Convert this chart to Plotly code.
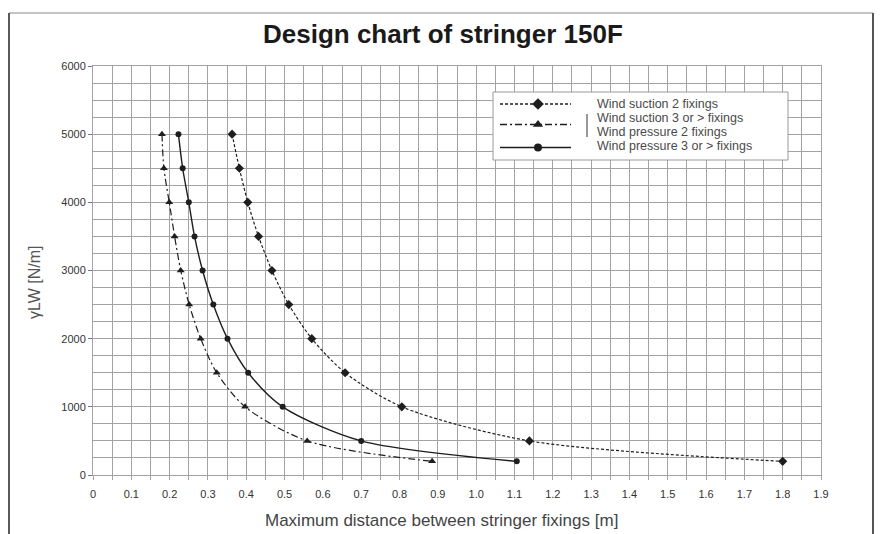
import plotly.graph_objects as go

# ---------------- data ----------------
load_levels = [5000, 4500, 4000, 3500, 3000, 2500, 2000, 1500, 1000, 500, 200]
suction_2 = [0.363, 0.382, 0.404, 0.432, 0.467, 0.511, 0.571, 0.658, 0.806, 1.139, 1.80]
suction_3_pressure_2 = [0.180, 0.185, 0.199, 0.213, 0.229, 0.251, 0.281, 0.323, 0.397, 0.559, 0.885]
pressure_3 = [0.223, 0.234, 0.250, 0.265, 0.286, 0.314, 0.351, 0.405, 0.495, 0.700, 1.106]

x_tick_vals = [0, 0.1, 0.2, 0.3, 0.4, 0.5, 0.6, 0.7, 0.8, 0.9, 1.0,
               1.1, 1.2, 1.3, 1.4, 1.5, 1.6, 1.7, 1.8, 1.9]
x_tick_text = ["0", "0.1", "0.2", "0.3", "0.4", "0.5", "0.6", "0.7", "0.8", "0.9", "1.0",
               "1.1", "1.2", "1.3", "1.4", "1.5", "1.6", "1.7", "1.8", "1.9"]
y_tick_vals = [0, 1000, 2000, 3000, 4000, 5000, 6000]

legend_texts = ["Wind suction 2 fixings", "Wind suction 3 or > fixings",
                "Wind pressure 2 fixings", "Wind pressure 3 or > fixings"]
title_text = "Design chart of stringer 150F"
x_title = "Maximum distance between stringer fixings [m]"
y_title = "γLW [N/m]"

# ---------------- layout geometry (pixels) ----------------
W, H = 880, 534
L, R, T, B = 93, 821, 66, 475


def px(x):
    return (x - L) / (R - L)


def py(y):
    return (B - y) / (B - T)


INK = "#1e1e1e"
GRID = "#a3a3a3"
FONT = "Liberation Sans, Arial, sans-serif"

series = [
    dict(x=suction_2, dash="3px,2px", symbol="diamond", size=7, width=1.2),
    dict(x=suction_3_pressure_2, dash="7px,3px,2px,3px", symbol="triangle-up", size=7, width=1.2),
    dict(x=pressure_3, dash="solid", symbol="circle", size=6, width=1.4),
]

fig = go.Figure()
for s in series:
    fig.add_trace(go.Scatter(
        x=s["x"], y=load_levels, mode="lines+markers",
        line=dict(color=INK, width=s["width"], dash=s["dash"], shape="spline", smoothing=0.8),
        marker=dict(symbol=s["symbol"], size=s["size"], color=INK),
        showlegend=False, hoverinfo="skip", cliponaxis=False,
    ))

# ---------------- custom legend (pixel space overlay) ----------------
box_x0, box_x1, box_y0, box_y1 = 493, 788, 92, 160
fig.add_trace(go.Scatter(
    x=[box_x0, box_x1, box_x1, box_x0, box_x0], y=[box_y0, box_y0, box_y1, box_y1, box_y0],
    mode="lines", fill="toself", fillcolor="white", xaxis="x2", yaxis="y2",
    line=dict(color="#9a9a9a", width=1), showlegend=False, hoverinfo="skip"))

sample_rows = [104, 124.5, 147.5]
for s, yy in zip(series, sample_rows):
    fig.add_trace(go.Scatter(
        x=[500, 571], y=[yy, yy], mode="lines", xaxis="x2", yaxis="y2",
        line=dict(color=INK, width=s["width"] + 0.3, dash=s["dash"]),
        showlegend=False, hoverinfo="skip"))
    fig.add_trace(go.Scatter(
        x=[538], y=[yy], mode="markers", xaxis="x2", yaxis="y2",
        marker=dict(symbol=s["symbol"], size=s["size"] + 2, color=INK),
        showlegend=False, hoverinfo="skip"))

shapes = [
    # bracket bar
    dict(type="line", xref="paper", yref="paper", x0=px(587), x1=px(587), y0=py(114), y1=py(137),
         line=dict(color="#555", width=1.2)),
    # outer frame
    dict(type="line", xref="paper", yref="paper", x0=px(9), x1=px(873), y0=py(13), y1=py(13),
         line=dict(color="#8a8a8a", width=1)),
    dict(type="line", xref="paper", yref="paper", x0=px(9), x1=px(9), y0=py(13), y1=py(540),
         line=dict(color="#222", width=1.5)),
    dict(type="line", xref="paper", yref="paper", x0=px(873), x1=px(873), y0=py(13), y1=py(540),
         line=dict(color="#555", width=2)),
]

annotations = []
for txt, yy in zip(legend_texts, [104, 118.3, 132.3, 146.3]):
    annotations.append(dict(text=txt, xref="paper", yref="paper", x=px(595), y=py(yy),
                            xanchor="left", yanchor="middle", showarrow=False,
                            font=dict(family=FONT, size=12.5, color="#4a4a4a")))
annotations += [
    dict(text=f"<b>{title_text}</b>", xref="paper", yref="paper", x=px(443), y=py(34),
         xanchor="center", yanchor="middle", showarrow=False,
         font=dict(family="Liberation Sans Narrow, Arial Narrow, sans-serif", size=26, color="#1a1a1a")),
    dict(text=x_title, xref="paper", yref="paper", x=px(441), y=py(520),
         xanchor="center", yanchor="middle", showarrow=False,
         font=dict(family=FONT, size=17, color="#444")),
    dict(text=y_title, xref="paper", yref="paper", x=px(34), y=py(283),
         xanchor="center", yanchor="middle", showarrow=False, textangle=-90,
         font=dict(family=FONT, size=16, color="#555")),
]

fig.update_layout(
    width=W, height=H,
    margin=dict(l=L, r=W - R, t=T, b=H - B, pad=0),
    paper_bgcolor="white", plot_bgcolor="white",
    showlegend=False,
    shapes=shapes, annotations=annotations,
    xaxis=dict(range=[0, 1.9], tickvals=x_tick_vals, ticktext=x_tick_text,
               showgrid=True, gridcolor=GRID, gridwidth=1, zeroline=False,
               showline=True, linecolor=GRID, linewidth=1, mirror=True,
               ticks="outside", ticklen=4, tickcolor=GRID, ticklabelstandoff=5,
               minor=dict(dtick=0.05, showgrid=True, gridcolor=GRID, gridwidth=1,
                          ticks="outside", ticklen=4, tickcolor=GRID),
               tickfont=dict(family=FONT, size=11, color="#333"), fixedrange=True),
    yaxis=dict(range=[0, 6000], tickvals=y_tick_vals,
               showgrid=True, gridcolor=GRID, gridwidth=1, zeroline=False,
               showline=True, linecolor=GRID, linewidth=1, mirror=True,
               ticks="outside", ticklen=4, tickcolor="#777",
               minor=dict(dtick=250, showgrid=True, gridcolor=GRID, gridwidth=1),
               tickfont=dict(family=FONT, size=11, color="#333"), fixedrange=True),
    xaxis2=dict(overlaying="x", anchor="y2", range=[L, R], visible=False, fixedrange=True),
    yaxis2=dict(overlaying="y", anchor="x2", range=[B, T], visible=False, fixedrange=True),
)

fig.write_html(
    "out.html",
    config={"displayModeBar": False, "staticPlot": True},
    post_script="document.body.style.margin='0';document.body.style.overflow='hidden';",
)
